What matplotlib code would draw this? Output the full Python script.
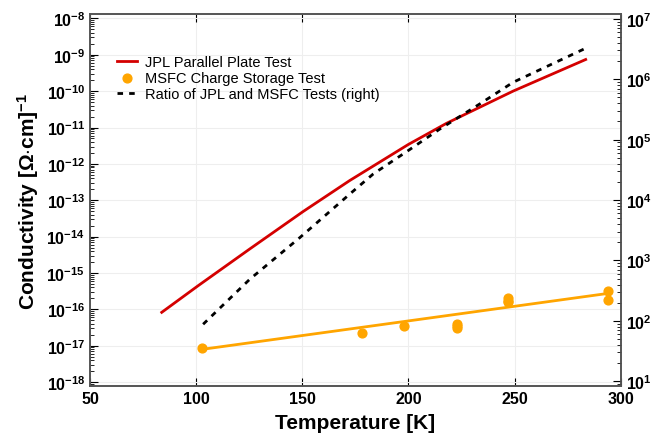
import matplotlib
matplotlib.use("Agg")
import matplotlib.pyplot as plt
import matplotlib.ticker as mticker
import numpy as np

plt.rcParams['font.family'] = ['Liberation Sans', 'DejaVu Sans']
plt.rcParams['font.weight'] = 'bold'
plt.rcParams['mathtext.fontset'] = 'custom'
plt.rcParams['mathtext.rm'] = 'Liberation Sans:bold'
plt.rcParams['mathtext.it'] = 'Liberation Sans:bold'
plt.rcParams['mathtext.bf'] = 'Liberation Sans:bold'

# JPL parallel plate test (conductivity, left axis)
jpl_T = [83.8, 101.0, 125.3, 150.4, 172.4, 199.9, 217.9, 249.3, 283.5]
jpl_sigma = [8.3e-17, 4.5e-16, 4.6e-15, 4.9e-14, 3.5e-13, 3.4e-12,
             1.3e-11, 1.0e-10, 7.4e-10]

# MSFC charge storage test points (left axis)
msfc_T = [103, 178, 198, 223, 223, 223, 247, 247, 247, 294, 294]
msfc_sigma = [8.5e-18, 2.2e-17, 3.6e-17, 3.9e-17, 3.4e-17, 3.0e-17,
              2.0e-16, 1.75e-16, 1.55e-16, 3.3e-16, 1.8e-16]

# MSFC fit line (left axis)
fit_T = [103, 294]
fit_sigma = [8.0e-18, 2.75e-16]

# ratio of JPL and MSFC (right axis)
ratio_T = [103.3, 125.3, 148.9, 172.4, 183.4, 199.9, 214.8, 233.6, 249.3, 283.0]
ratio = [88, 490, 2.4e3, 1.26e4, 2.7e4, 6.6e4, 1.5e5, 3.9e5, 8.9e5, 3.2e6]

fig = plt.figure(figsize=(6.52, 4.35), dpi=100)
ax = fig.add_axes([0.138, 0.110, 0.814, 0.8555])
ax2 = ax.twinx()

l1, = ax.plot(jpl_T, jpl_sigma, color='#d40000', lw=2, label='JPL Parallel Plate Test')
s1 = ax.scatter(msfc_T, msfc_sigma, s=40, color='#ffa500', zorder=3,
                label='MSFC Charge Storage Test')
ax.plot(fit_T, fit_sigma, color='#ffa500', lw=2)
l3, = ax2.plot(ratio_T, ratio, color='black', lw=2, linestyle=(0, (2, 2.2)),
               label='Ratio of JPL and MSFC Tests (right)')

ax.set_yscale('log')
ax2.set_yscale('log')
ax.set_xlim(50, 300)
ax.set_ylim(1e-18 / 10**0.11, 1e-8 * 10**0.12)
ax2.set_ylim(10 / 10**0.08, 1e7 * 10**0.08)

ax.set_xticks([50, 100, 150, 200, 250, 300])
ax.yaxis.set_major_locator(mticker.LogLocator(base=10, numticks=20))
ax.yaxis.set_minor_locator(mticker.LogLocator(base=10, subs=np.arange(2, 10), numticks=20))
ax.yaxis.set_minor_formatter(mticker.NullFormatter())
ax2.yaxis.set_major_locator(mticker.LogLocator(base=10, numticks=20))
ax2.yaxis.set_minor_locator(mticker.LogLocator(base=10, subs=np.arange(2, 10), numticks=20))
ax2.yaxis.set_minor_formatter(mticker.NullFormatter())

ax.tick_params(axis='x', which='both', direction='in', top=True, length=6, labelsize=11.5)
ax.tick_params(axis='y', which='major', direction='in', length=6, labelsize=11.5)
ax.tick_params(axis='y', which='minor', direction='in', length=3)
ax2.tick_params(axis='y', which='major', direction='in', length=6, labelsize=11.5)
ax2.tick_params(axis='y', which='minor', direction='in', length=3)

ax.grid(True, which='major', color='#eeeeee', lw=0.8)
ax.set_axisbelow(True)

for sp in list(ax.spines.values()) + list(ax2.spines.values()):
    sp.set_color('#555555')
    sp.set_linewidth(1.2)

ax.set_xlabel('Temperature [K]', fontsize=15, fontweight='bold', labelpad=5)
ax.set_ylabel(r'Conductivity [$\Omega$$\cdot$cm]$^{-1}$', fontsize=15, fontweight='bold')

leg = ax.legend([l1, s1, l3], [l1.get_label(), s1.get_label(), l3.get_label()],
                loc='upper left', bbox_to_anchor=(0.04, 0.905), frameon=False,
                fontsize=10.5, handlelength=1.4, handletextpad=0.5, labelspacing=0.12,
                borderaxespad=0)
for t in leg.get_texts():
    t.set_fontweight('normal')

fig.savefig('out.png', dpi=100)
